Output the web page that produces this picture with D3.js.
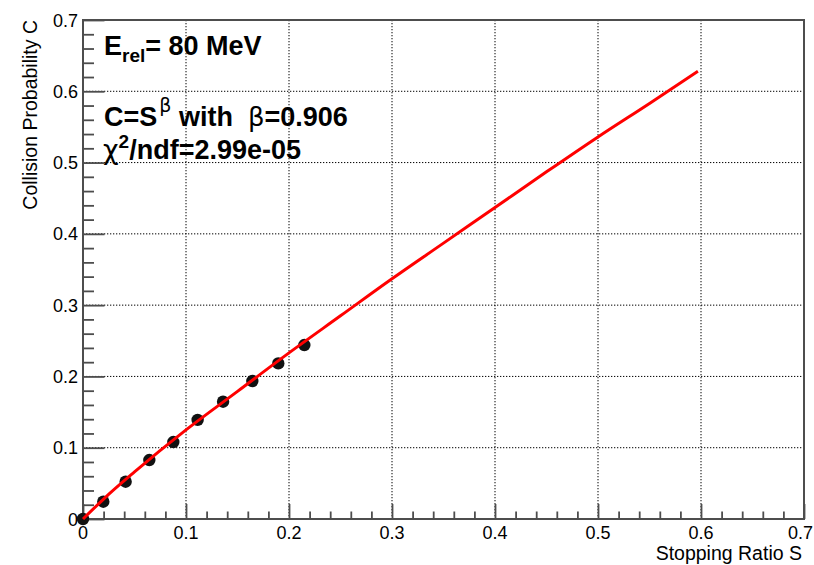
<!DOCTYPE html>
<html><head><meta charset="utf-8">
<script src="https://cdn.jsdelivr.net/npm/d3@7"></script>
<style>body{margin:0;background:#fff}svg{display:block}text{font-family:"Liberation Sans",Arial,Helvetica,sans-serif}</style>
</head><body>
<svg id="c" width="814" height="565"></svg>
<script>
// data points (Stopping Ratio S, Collision Probability C)
const pointS = [0, 0.0197, 0.0414, 0.0644, 0.0877, 0.1113, 0.136, 0.1644, 0.1896, 0.2149];
const pointC = [0, 0.0243, 0.0523, 0.0827, 0.108, 0.139, 0.1645, 0.1935, 0.2183, 0.244];
// fit curve
const fitS = [0, 0.02, 0.05, 0.1, 0.15, 0.2, 0.25, 0.3, 0.35, 0.4, 0.45, 0.5, 0.55, 0.597];
const fitC = [0, 0.028, 0.066, 0.125, 0.179, 0.233, 0.285, 0.337, 0.387, 0.437, 0.487, 0.536, 0.583, 0.628];
const ticks = [0, 0.1, 0.2, 0.3, 0.4, 0.5, 0.6, 0.7];
const tickLabels = ["0", "0.1", "0.2", "0.3", "0.4", "0.5", "0.6", "0.7"];

const svg = d3.select("#c");
const L = 83, R = 804, T = 20, B = 519;
const x = d3.scaleLinear().domain([0, 0.7]).range([L, R]);
const y = d3.scaleLinear().domain([0, 0.7]).range([B, T]);
const frameCol = "#4d4d4d";

// grid
const g = svg.append("g");
ticks.slice(1, -1).forEach(t => {
  g.append("line").attr("x1", x(t)).attr("x2", x(t)).attr("y1", T).attr("y2", B)
    .attr("stroke", "#000").attr("stroke-width", 1).attr("stroke-dasharray", "1.3,1.7");
  g.append("line").attr("x1", L).attr("x2", R).attr("y1", y(t)).attr("y2", y(t))
    .attr("stroke", "#000").attr("stroke-width", 1).attr("stroke-dasharray", "1.3,1.7");
});

// axes with inward ticks
const minor = d3.range(0, 0.7001, 0.02);
const isMajor = d => Math.abs(Math.round(d * 10) - d * 10) < 1e-6;
const xAxis = svg.append("g").attr("transform", `translate(0,${B})`);
xAxis.call(d3.axisBottom(x).tickValues(minor).tickSize(-7.5).tickFormat(""));
xAxis.selectAll(".tick").filter(isMajor).select("line").attr("y2", -15);
xAxis.selectAll("line,path").attr("stroke", frameCol).attr("stroke-width", 1.8);
xAxis.select(".domain").remove();
const yAxis = svg.append("g").attr("transform", `translate(${L},0)`);
yAxis.call(d3.axisLeft(y).tickValues(minor).tickSize(-11).tickFormat(""));
yAxis.selectAll(".tick").filter(isMajor).select("line").attr("x2", 21.5);
yAxis.selectAll("line,path").attr("stroke", frameCol).attr("stroke-width", 1.8);
yAxis.select(".domain").remove();

// tick labels
ticks.forEach((t, i) => {
  const last = i === ticks.length - 1;
  svg.append("text").attr("x", last ? 813 : x(t)).attr("y", B + 20)
    .attr("text-anchor", last ? "end" : "middle")
    .attr("font-size", 18).text(tickLabels[i]);
  svg.append("text").attr("x", L - 5).attr("y", y(t) + 6.5).attr("text-anchor", "end")
    .attr("font-size", 18).text(tickLabels[i]);
});

// frame
svg.append("rect").attr("x", L).attr("y", T).attr("width", R - L).attr("height", B - T)
  .attr("fill", "none").attr("stroke", frameCol).attr("stroke-width", 2);

// axis titles
svg.append("text").attr("x", 802).attr("y", 560).attr("text-anchor", "end").attr("font-size", 19.5)
  .text("Stopping Ratio S");
svg.append("text").attr("transform", `translate(37,${T}) rotate(-90)`).attr("text-anchor", "end")
  .attr("font-size", 19.5).text("Collision Probability C");

// points
const pts = pointS.map((s, i) => ({s, c: pointC[i]}));
svg.append("g").selectAll("circle").data(pts).join("circle")
  .attr("cx", d => x(d.s)).attr("cy", d => y(d.c)).attr("r", 6.2).attr("fill", "#111");

// fit line
const fit = fitS.map((s, i) => ({s, c: fitC[i]}));
svg.append("path").datum(fit).attr("fill", "none").attr("stroke", "#ff0000").attr("stroke-width", 3)
  .attr("d", d3.line().curve(d3.curveMonotoneX).x(d => x(d.s)).y(d => y(d.c)));

// annotations
const greek = '"DejaVu Sans", sans-serif';
const t1 = svg.append("text").attr("x", 104).attr("y", 55).attr("font-size", 27).attr("font-weight", "bold");
t1.append("tspan").text("E");
t1.append("tspan").attr("font-size", 19).attr("dy", 7).text("rel");
t1.append("tspan").attr("dy", -7).text("= 80 MeV");

const t2 = svg.append("text").attr("x", 104).attr("y", 126).attr("font-size", 27).attr("font-weight", "bold")
  .attr("xml:space", "preserve").style("white-space", "pre");
t2.append("tspan").text("C=S");
t2.append("tspan").attr("font-size", 19).attr("font-weight", "normal").style("font-family", greek)
  .attr("dx", 2).attr("dy", -14).text("β");
t2.append("tspan").attr("dy", 14).text(" with  ");
t2.append("tspan").attr("font-weight", "normal").attr("font-size", 26).style("font-family", greek).text("β");
t2.append("tspan").text("=0.906");

const t3 = svg.append("text").attr("x", 103).attr("y", 159).attr("font-size", 27).attr("font-weight", "bold");
t3.append("tspan").attr("font-weight", "normal").attr("font-size", 27).style("font-family", greek).text("χ");
t3.append("tspan").attr("font-size", 19).attr("dy", -11).text("2");
t3.append("tspan").attr("dy", 11).text("/ndf=2.99e-05");
</script>
</body></html>
